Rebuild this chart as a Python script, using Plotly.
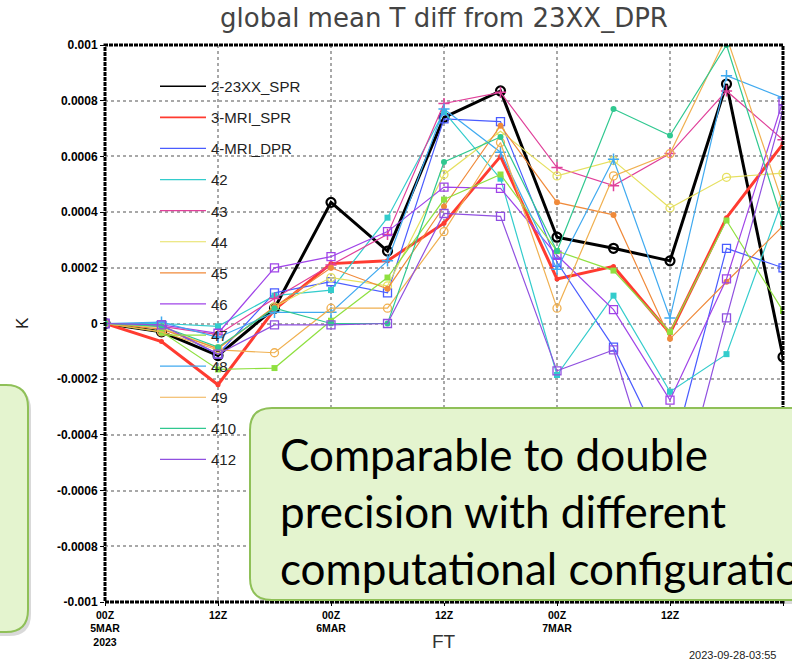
import plotly.graph_objects as go

# ---------------- data ----------------
ft_hours = [0, 6, 12, 18, 24, 30, 36, 42, 48, 54, 60, 66, 72]
x_tick_vals = [0, 12, 24, 36, 48, 60, 72]
x_tick_text = ["00Z<br>5MAR<br>2023", "12Z", "00Z<br>6MAR", "12Z",
               "00Z<br>7MAR", "12Z", "00Z<br>8MAR"]
y_tick_vals = [0.001, 0.0008, 0.0006, 0.0004, 0.0002, 0.0,
               -0.0002, -0.0004, -0.0006, -0.0008, -0.001]
y_tick_text = ["0.001", "0.0008", "0.0006", "0.0004", "0.0002", "0",
               "-0.0002", "-0.0004", "-0.0006", "-0.0008", "-0.001"]

series_names = ["2-23XX_SPR", "3-MRI_SPR", "4-MRI_DPR", "42", "43", "44", "45",
                "46", "47", "48", "49", "410", "412"]

s2_23XX_SPR = [0, -0.3e-4, -1.15e-4, 0.55e-4, 4.35e-4, 2.6e-4, 7.4e-4, 8.35e-4, 3.1e-4, 2.7e-4, 2.25e-4, 8.6e-4, -1.2e-4]
s3_MRI_SPR = [0, -0.65e-4, -2.2e-4, 0.5e-4, 2.15e-4, 2.25e-4, 3.6e-4, 6.0e-4, 1.6e-4, 2.05e-4, -0.35e-4, 3.8e-4, 6.45e-4]
s4_MRI_DPR = [0, -0.1e-4, -1.1e-4, 1.1e-4, 1.5e-4, 1.1e-4, 7.35e-4, 7.25e-4, 2.2e-4, -0.85e-4, -5.0e-4, 2.7e-4, 2.0e-4]
s42 = [0, 0.0, -0.1e-4, 1.0e-4, 1.2e-4, 3.8e-4, 7.6e-4, 5.2e-4, -1.85e-4, 1.0e-4, -2.45e-4, -1.1e-4, 4.5e-4]
s43 = [0, -0.1e-4, -0.4e-4, 0.9e-4, 2.1e-4, 3.2e-4, 7.9e-4, 8.3e-4, 5.6e-4, 4.95e-4, 6.1e-4, 8.35e-4, 6.6e-4]
s44 = [0, -0.15e-4, -0.9e-4, 0.6e-4, 1.65e-4, 1.35e-4, 5.35e-4, 6.9e-4, 5.3e-4, 5.85e-4, 4.15e-4, 5.25e-4, 5.4e-4]
s45 = [0, -0.2e-4, -0.9e-4, 0.6e-4, 2.0e-4, 1.25e-4, 4.2e-4, 7.1e-4, 4.35e-4, 3.9e-4, -0.55e-4, 1.5e-4, 3.5e-4]
s46 = [0, -0.05e-4, -0.35e-4, 2.0e-4, 2.4e-4, 3.3e-4, 4.9e-4, 4.85e-4, 2.45e-4, 0.5e-4, -2.75e-4, 1.6e-4, 8.0e-4]
s47 = [0, -0.3e-4, -1.65e-4, -1.6e-4, 0.1e-4, 1.65e-4, 4.45e-4, 5.35e-4, 2.6e-4, 1.9e-4, -0.3e-4, 3.7e-4, 0.45e-4]
s48 = [0, 0.05e-4, -0.5e-4, 0.4e-4, 0.4e-4, 2.25e-4, 7.7e-4, 6.15e-4, 1.95e-4, 5.9e-4, 0.2e-4, 8.9e-4, 8.1e-4]
s49 = [0, -0.3e-4, -0.95e-4, -1.05e-4, 0.55e-4, 0.55e-4, 3.3e-4, 6.5e-4, 0.55e-4, 5.3e-4, 6.1e-4, 10.3e-4, 4.3e-4]
s410 = [0, -0.1e-4, -0.85e-4, 0.55e-4, 0.0, 0.0, 5.8e-4, 6.7e-4, 2.6e-4, 7.7e-4, 6.75e-4, 10.0e-4, 3.6e-4]
s412 = [0, -0.05e-4, -1.1e-4, -0.05e-4, -0.05e-4, 0.0, 3.95e-4, 3.85e-4, -1.7e-4, -0.95e-4, -7.5e-4, 0.2e-4, 7.7e-4]

series_values = [s2_23XX_SPR, s3_MRI_SPR, s4_MRI_DPR, s42, s43, s44, s45,
                 s46, s47, s48, s49, s410, s412]

# ---------------- styles ----------------
colors = ["#000000", "#ff3b30", "#4a5cff", "#33cccc", "#e0409a", "#e6e060",
          "#f08a3a", "#a044e8", "#8fe040", "#40aaf0", "#f0b050", "#30c890", "#9050e0"]
widths = [3, 3, 1.2, 1.2, 1.2, 1.2, 1.2, 1.2, 1.2, 1.2, 1.2, 1.2, 1.2]
symbols = ["circle-open", "circle", "square-open", "square", "cross-thin", "circle-open",
           "circle", "square-open", "square", "cross-thin", "circle-open", "circle", "square-open"]
msizes = [9, 5, 8, 6, 8, 8, 6, 8, 6, 8, 8, 6, 8]
mlw = [2.2, 0, 1.3, 0, 1.5, 1.3, 0, 1.3, 0, 1.5, 1.3, 0, 1.3]

fig = go.Figure()
for name, vals, c, w, sym, ms, lw in zip(series_names, series_values, colors, widths,
                                         symbols, msizes, mlw):
    fig.add_trace(go.Scatter(
        x=ft_hours, y=vals, mode="lines+markers", name=name,
        legendgroup=name, showlegend=False,
        line=dict(color=c, width=w),
        marker=dict(symbol=sym, size=ms, color=c,
                    line=dict(color=c, width=lw)),
    ))
# legend entries (line only, like the original)
for name, c, w in zip(series_names, colors, widths):
    fig.add_trace(go.Scatter(
        x=[None], y=[None], mode="lines", name=name, legendgroup=name,
        showlegend=True, line=dict(color=c, width=min(w, 1.6)),
    ))

# ---------------- geometry helpers (pixel -> paper) ----------------
L, R, T, B = 105, 783, 45, 602
def px(p):
    return (p - L) / (R - L)
def py(p):
    return (B - p) / (B - T)

def rrect(x0, y0, x1, y1, r):
    pts = [("M", x0 + r, y0), ("L", x1 - r, y0), ("Q", x1, y0, x1, y0 + r),
           ("L", x1, y1 - r), ("Q", x1, y1, x1 - r, y1), ("L", x0 + r, y1),
           ("Q", x0, y1, x0, y1 - r), ("L", x0, y0 + r), ("Q", x0, y0, x0 + r, y0)]
    out = []
    for p in pts:
        cmd = p[0]
        coords = p[1:]
        s = []
        for i in range(0, len(coords), 2):
            s.append(f"{px(coords[i]):.5f},{py(coords[i + 1]):.5f}")
        out.append(cmd + " " + " ".join(s))
    return " ".join(out) + " Z"

shapes = [
    # GrADS-like frame
    dict(type="rect", xref="paper", yref="paper", x0=0, y0=0, x1=1, y1=1,
         line=dict(color="black", width=3, dash="4px,1px"), layer="above"),
    # left callout (cut off)
    dict(type="path", xref="paper", yref="paper", path=rrect(-24, 388, 31, 636, 22),
         fillcolor="rgba(0,0,0,0.15)", line=dict(width=0), layer="above"),
    dict(type="path", xref="paper", yref="paper", path=rrect(-24, 385, 28, 632, 22),
         fillcolor="#e4f4cf", line=dict(color="#8fc058", width=2), layer="above"),
    # main callout
    dict(type="path", xref="paper", yref="paper", path=rrect(253, 411, 830, 604, 22),
         fillcolor="rgba(0,0,0,0.15)", line=dict(width=0), layer="above"),
    dict(type="path", xref="paper", yref="paper", path=rrect(250, 408, 830, 600, 22),
         fillcolor="#e4f4cf", line=dict(color="#8fc058", width=2), layer="above"),
]

annotations = [
    dict(text="K", xref="paper", yref="paper", x=px(22), y=py(323), showarrow=False,
         xanchor="center", yanchor="middle", textangle=-90,
         font=dict(family="Liberation Sans", size=17, color="#222")),
    dict(text="FT", xref="paper", yref="paper", x=px(444), y=py(641), showarrow=False,
         xanchor="center", yanchor="middle",
         font=dict(family="Liberation Sans", size=19, color="#333")),
    dict(text="2023-09-28-03:55", xref="paper", yref="paper", x=px(687), y=py(655),
         xanchor="left", yanchor="middle", showarrow=False,
         font=dict(family="Liberation Sans", size=11, color="#222")),
    dict(text="Comparable to double<br>precision with different<br>computational configuration",
         xref="paper", yref="paper", x=px(278), y=py(511), xanchor="left", yanchor="middle",
         align="left", showarrow=False,
         font=dict(family="Lato", size=44, color="#000")),
]

fig.update_layout(
    width=792, height=662, autosize=False,
    margin=dict(l=L, r=792 - R, t=T, b=662 - B),
    paper_bgcolor="white", plot_bgcolor="white",
    title=dict(text="global mean T diff from 23XX_DPR", x=px(444), xref="paper",
               xanchor="center", y=1 - 18 / 662, yanchor="middle",
               font=dict(family="DejaVu Sans", size=26, color="#444")),
    xaxis=dict(range=[0, 72], tickvals=x_tick_vals, ticktext=x_tick_text,
               showgrid=True, gridcolor="#a8a8a8", gridwidth=1.5, griddash="dot",
               zeroline=False, showline=False, ticks="outside", ticklen=3,
               tickcolor="black",
               tickfont=dict(family="Liberation Sans", size=10.5, color="black",
                             weight="bold")),
    yaxis=dict(range=[-0.001, 0.001], tickvals=y_tick_vals, ticktext=y_tick_text,
               showgrid=True, gridcolor="#a8a8a8", gridwidth=1.5, griddash="dot",
               zeroline=False, showline=False, ticks="outside", ticklen=4,
               tickcolor="black",
               tickfont=dict(family="Liberation Sans", size=12, color="black",
                             weight="bold")),
    legend=dict(x=px(155), y=py(70), xanchor="left", yanchor="top",
                bgcolor="rgba(0,0,0,0)", borderwidth=0, tracegroupgap=8.6,
                itemwidth=46,
                font=dict(family="Liberation Sans", size=15, color="#222")),
    shapes=shapes, annotations=annotations,
)

fig.write_html("out.html")
